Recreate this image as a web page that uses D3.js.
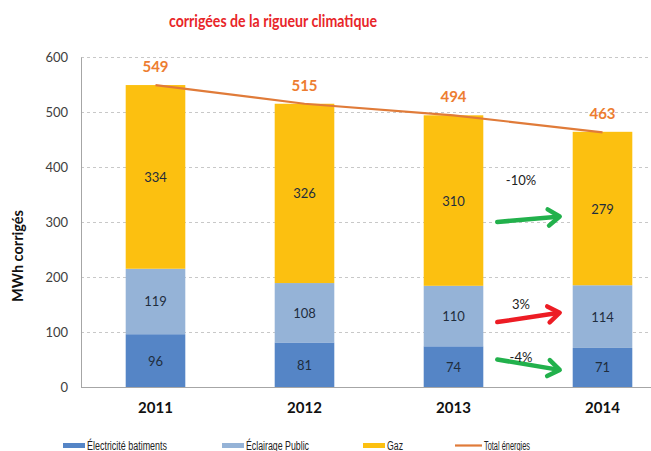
<!DOCTYPE html>
<html><head><meta charset="utf-8">
<script src="https://cdn.jsdelivr.net/npm/d3@7"></script>
<style>body{margin:0;background:#fff;overflow:hidden}svg{display:block}</style>
</head><body>
<svg id="c" width="651" height="451"></svg>
<script>
const years = ["2011","2012","2013","2014"];
const electricite = [96,81,74,71];
const eclairage = [119,108,110,114];
const gaz = [334,326,310,279];
const total = [549,515,494,463];
const yTicks = [0,100,200,300,400,500,600];
const seriesNames = ["Électricité batiments","Éclairage Public","Gaz","Total énergies"];
const arrowNotes = [
  {label:"-10%", from:"2013", y0:300, y1:310, color:"#22b14c"},
  {label:"3%", from:"2013", y0:118, y1:135, color:"#ed1c24"},
  {label:"-4%", from:"2013", y0:50, y1:31, color:"#22b14c"}
];

const svg = d3.select("#c");
const colors = ["#5585c6","#95b3d7","#fcc010"];
const lineColor = "#e07b39";
const m = {l:81, r:677, t:57, b:387};
const x = d3.scaleBand().domain(years).range([m.l, m.r]).paddingInner(0.6).paddingOuter(0.3);
const y = d3.scaleLinear().domain([0,600]).range([m.b, m.t]);
const font = "Lato, 'Open Sans', 'Liberation Sans', sans-serif";

// title
svg.append("text").attr("x",273).attr("y",27).attr("text-anchor","middle")
  .attr("font-family",font).attr("font-weight","bold").attr("font-size",17.5)
  .attr("textLength",208).attr("lengthAdjust","spacingAndGlyphs")
  .attr("fill","#e8262a").text("corrigées de la rigueur climatique");

// gridlines
svg.append("g").selectAll("line").data(yTicks.filter(d=>d>0)).join("line")
  .attr("x1",m.l).attr("x2",m.r).attr("y1",d=>y(d)+0.5).attr("y2",d=>y(d)+0.5)
  .attr("stroke","#c8c8c8").attr("stroke-dasharray","3,3");

// y axis
const ya = svg.append("g").attr("transform",`translate(${m.l},0)`)
  .call(d3.axisLeft(y).tickValues(yTicks).tickSize(0).tickPadding(13));
ya.select(".domain").attr("stroke","#a6a6a6");
ya.selectAll("text").attr("font-family",font).attr("font-size",13).attr("fill","#404040");

// stacked bars
const data = years.map((yr,i)=>({year:yr, e:electricite[i], c:eclairage[i], g:gaz[i]}));
const stack = d3.stack().keys(["e","c","g"])(data);
const bw = x.bandwidth();
stack.forEach((s,k)=>{
  const g = svg.append("g");
  g.selectAll("rect").data(s).join("rect")
    .attr("x",d=>x(d.data.year)).attr("width",bw)
    .attr("y",d=>y(d[1])).attr("height",d=>y(d[0])-y(d[1]))
    .attr("fill",colors[k]);
  g.selectAll("text").data(s).join("text")
    .attr("x",d=>x(d.data.year)+bw/2).attr("y",d=>(y(d[0])+y(d[1]))/2+5)
    .attr("text-anchor","middle").attr("font-family",font).attr("font-size",13)
    .attr("fill","#1f2d3d").text(d=>d[1]-d[0]);
});

// x axis
svg.append("line").attr("x1",m.l).attr("x2",m.r).attr("y1",m.b+0.5).attr("y2",m.b+0.5).attr("stroke","#a6a6a6");
svg.append("g").selectAll("text").data(years).join("text")
  .attr("x",d=>x(d)+bw/2).attr("y",413).attr("text-anchor","middle")
  .attr("font-family",font).attr("font-weight","bold").attr("font-size",15).attr("fill","#111")
  .text(d=>d);

// total line
const line = d3.line().x((d,i)=>x(years[i])+bw/2).y(d=>y(d));
svg.append("path").datum(total).attr("d",line).attr("fill","none")
  .attr("stroke",lineColor).attr("stroke-width",2.2);
svg.append("g").selectAll("text").data(total).join("text")
  .attr("x",(d,i)=>x(years[i])+bw/2).attr("y",d=>y(d)-13)
  .attr("text-anchor","middle").attr("font-family",font).attr("font-weight","bold")
  .attr("font-size",15).attr("fill","#ed7d31").text(d=>d);

// y label
svg.append("text").attr("transform","translate(23,256) rotate(-90)").attr("text-anchor","middle")
  .attr("font-family",font).attr("font-weight","bold").attr("font-size",14.5).attr("fill","#111")
  .text("MWh corrigés");

// arrows
const ax0 = x("2013")+bw+14, ax1 = x("2014")-13;
arrowNotes.forEach(a=>{
  const y0 = y(a.y0), y1 = y(a.y1);
  const g = svg.append("g");
  const ang = Math.atan2(y1-y0, ax1-ax0);
  g.append("line").attr("x1",ax0).attr("y1",y0).attr("x2",ax1-2*Math.cos(ang)).attr("y2",y1-2*Math.sin(ang))
    .attr("stroke",a.color).attr("stroke-width",4.5).attr("stroke-linecap","round");
  const hl = 14, ha = 0.62;
  const p1 = [ax1 - hl*Math.cos(ang-ha), y1 - hl*Math.sin(ang-ha)];
  const p2 = [ax1 - hl*Math.cos(ang+ha), y1 - hl*Math.sin(ang+ha)];
  g.append("path").attr("d",`M${p1[0]},${p1[1]}L${ax1},${y1}L${p2[0]},${p2[1]}`)
    .attr("fill","none").attr("stroke",a.color).attr("stroke-width",4.5)
    .attr("stroke-linecap","round").attr("stroke-linejoin","round");
});
const noteY = [185, 309, 362];
svg.append("g").selectAll("text").data(arrowNotes).join("text")
  .attr("x",521).attr("y",(d,i)=>noteY[i]).attr("text-anchor","middle")
  .attr("font-family",font).attr("font-size",13).attr("fill","#222").text(d=>d.label);

// legend
const legX = [63,222,363,455];
const legW = [80,63,16,46];
const lg = svg.append("g");
seriesNames.forEach((n,i)=>{
  if(i<3) lg.append("rect").attr("x",legX[i]).attr("y",443).attr("width",22).attr("height",5).attr("fill",colors[i]);
  else lg.append("line").attr("x1",legX[i]).attr("x2",legX[i]+27).attr("y1",445.5).attr("y2",445.5).attr("stroke",lineColor).attr("stroke-width",2.2);
  lg.append("text").attr("x",legX[i]+(i<3?24:29)).attr("y",449.5).attr("font-family","'Liberation Sans',Arial,sans-serif")
    .attr("font-size",12).attr("textLength",legW[i]).attr("lengthAdjust","spacingAndGlyphs")
    .attr("fill","#222").text(n);
});
</script>
</body></html>
